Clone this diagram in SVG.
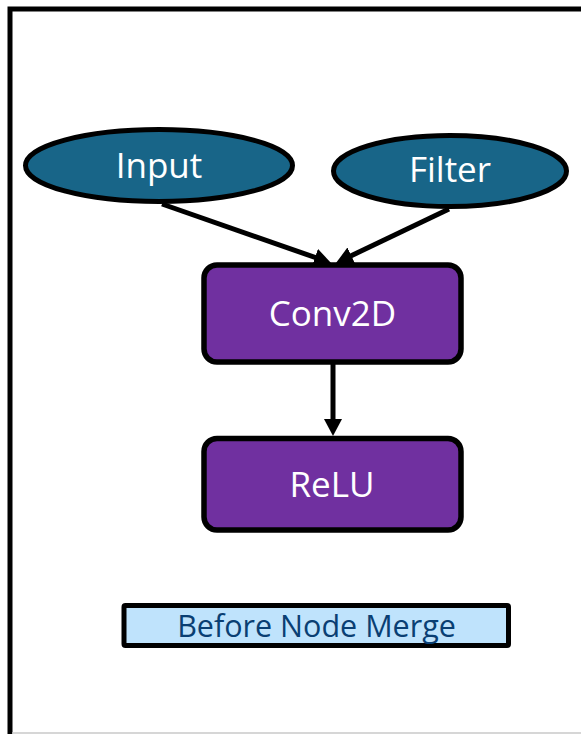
<svg xmlns="http://www.w3.org/2000/svg" width="581" height="734" viewBox="0 0 581 734">
<style>
.op ellipse{fill:#186588;stroke:#000;stroke-width:5}
.box rect{fill:#7030a0;stroke:#000;stroke-width:5.5}
.lbl{font-family:"Open Sans","Noto Sans","DejaVu Sans",sans-serif;font-size:35px;fill:#fff;text-anchor:middle}
.edge{stroke:#000;stroke-width:5;fill:none;marker-end:url(#ah)}
</style>
<defs>
<marker id="ah" markerUnits="userSpaceOnUse" markerWidth="18" markerHeight="19" refX="7" refY="9" orient="auto" viewBox="0 0 18 18">
<path d="M0,0 L17,9 L0,18 z" fill="#000"/>
</marker>
</defs>
<rect width="581" height="734" fill="#fff"/>
<g id="frame">
<path d="M10,734 L10,9 L581,9" fill="none" stroke="#000" stroke-width="5"/>
<line x1="12" y1="733" x2="581" y2="733" stroke="#c8c8c8" stroke-width="1.5"/>
</g>
<g id="connectors">
<line class="edge" x1="162" y1="204" x2="321.6" y2="259.7"/>
<line class="edge" x1="449" y1="209" x2="345" y2="258.7"/>
<line class="edge" x1="333" y1="364" x2="333" y2="426"/>
</g>
<g id="input" class="op">
<ellipse cx="159" cy="165.5" rx="133.5" ry="36"/>
<text class="lbl" x="159" y="178">Input</text>
</g>
<g id="filter" class="op">
<ellipse cx="450" cy="171" rx="116.5" ry="35.5"/>
<text class="lbl" x="450" y="182">Filter</text>
</g>
<g id="conv2d" class="box">
<rect x="204" y="265" width="257" height="97" rx="13"/>
<text class="lbl" x="332.5" y="326">Conv2D</text>
</g>
<g id="relu" class="box">
<rect x="204" y="438.5" width="257" height="91.5" rx="13"/>
<text class="lbl" x="332" y="497">ReLU</text>
</g>
<g id="caption">
<rect x="124" y="605.5" width="384.5" height="40" fill="#bfe3fc" stroke="#000" stroke-width="5" rx="1.5"/>
<text x="316.5" y="637" font-family="'Open Sans','Noto Sans','DejaVu Sans',sans-serif" font-size="30.5" fill="#0a3f73" text-anchor="middle">Before Node Merge</text>
</g>
</svg>
